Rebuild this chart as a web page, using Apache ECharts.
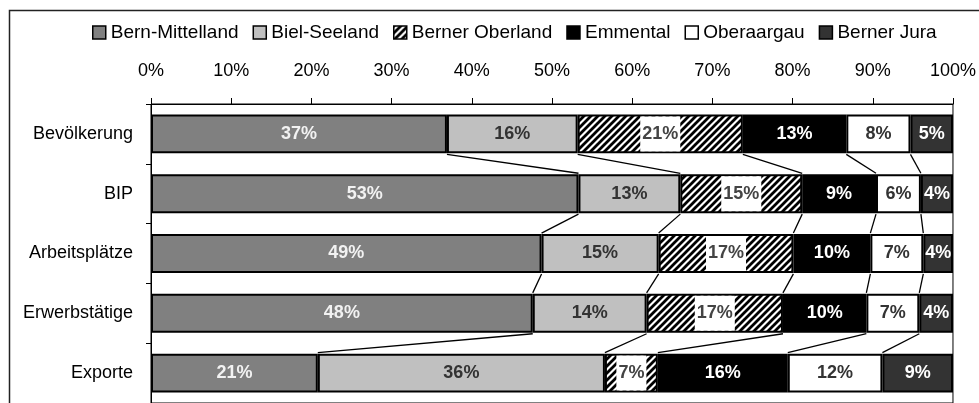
<!DOCTYPE html>
<html>
<head>
<meta charset="utf-8">
<script src="https://cdn.jsdelivr.net/npm/echarts@6/dist/echarts.min.js"></script>
<style>
html,body{margin:0;padding:0;background:#fff;}
#chart{width:979px;height:403px;}
</style>
</head>
<body>
<div id="chart"></div>
<script>
const categories = ['Bevölkerung', 'BIP', 'Arbeitsplätze', 'Erwerbstätige', 'Exporte'];
const seriesNames = ['Bern-Mittelland', 'Biel-Seeland', 'Berner Oberland', 'Emmental', 'Oberaargau', 'Berner Jura'];
const bernMittelland = [36.9, 53.3, 48.7, 47.6, 20.8];
const bielSeeland    = [16.3, 12.7, 14.6, 14.2, 35.8];
const bernerOberland = [20.6, 15.2, 16.8, 17.0, 6.6];
const emmental       = [12.9, 9.2, 9.6, 10.4, 16.2];
const oberaargau     = [8.0, 5.6, 6.6, 6.6, 11.8];
const bernerJura     = [5.3, 4.0, 3.7, 4.2, 8.8];
const valueArrays = [bernMittelland, bielSeeland, bernerOberland, emmental, oberaargau, bernerJura];

const FONT = 'Liberation Sans, Arial, sans-serif';
const GAP = 0.35;

// hatch pattern for Berner Oberland
function makeHatch() {
  const c = document.createElement('canvas');
  const s = 7;
  c.width = s; c.height = s;
  const ctx = c.getContext('2d');
  ctx.fillStyle = '#fff';
  ctx.fillRect(0, 0, s, s);
  ctx.strokeStyle = '#000';
  ctx.lineWidth = 2.8;
  ctx.beginPath();
  ctx.moveTo(-1, s + 1); ctx.lineTo(s + 1, -1);
  ctx.moveTo(-s / 2 - 1, s / 2 + 1); ctx.lineTo(s / 2 + 1, -s / 2 - 1);
  ctx.moveTo(s / 2 - 1, s * 1.5 + 1); ctx.lineTo(s * 1.5 + 1, s / 2 - 1);
  ctx.stroke();
  return c;
}
const hatch = { image: makeHatch(), repeat: 'repeat' };

const fills = ['#808080', '#c0c0c0', hatch, '#000000', '#ffffff', '#333333'];
const labelColors = ['#f2f2f2', '#333333', '#444444', '#ffffff', '#333333', '#ffffff'];

// cumulative boundaries per category
const cum = categories.map((c, i) => {
  const arr = [0];
  let s = 0;
  valueArrays.forEach(a => { s += a[i]; arr.push(s); });
  return arr;
});

const barSeries = seriesNames.map((name, k) => {
  const label = {
    show: true,
    position: 'inside',
    formatter: p => Math.round(p.value) + '%',
    fontFamily: FONT,
    fontSize: 18,
    fontWeight: 'bold',
    color: labelColors[k]
  };
  if (k === 2) {
    label.backgroundColor = '#fff';
    label.padding = [9, 2, 8, 2];
  }
  return {
    name: name,
    type: 'bar',
    stack: 'total',
    barCategoryGap: (GAP * 100) + '%',
    data: valueArrays[k],
    itemStyle: { color: fills[k], borderColor: '#000', borderWidth: 2 },
    label: label,
    emphasis: { disabled: true }
  };
});

const linkData = [];
for (let i = 0; i < categories.length - 1; i++) linkData.push([0, i]);

const linkSeries = {
  name: 'links',
  type: 'custom',
  clip: false,
  z: 5,
  silent: true,
  encode: { x: 0, y: 1 },
  data: linkData,
  renderItem: function (params, api) {
    const i = api.value(1);
    const band = api.size([0, 1])[1];
    const half = band * (1 - GAP) / 2 + 1;
    const children = [];
    for (let k = 1; k < seriesNames.length; k++) {
      const p1 = api.coord([cum[i][k], i]);
      const p2 = api.coord([cum[i + 1][k], i + 1]);
      children.push({
        type: 'line',
        shape: { x1: p1[0], y1: p1[1] + half, x2: p2[0], y2: p2[1] - half },
        style: { stroke: '#000', lineWidth: 1.3 }
      });
    }
    return { type: 'group', children: children };
  }
};

const chart = echarts.init(document.getElementById('chart'), null, { renderer: 'canvas' });
chart.setOption({
  animation: false,
  backgroundColor: '#fff',
  textStyle: { fontFamily: FONT },
  graphic: [{
    type: 'rect',
    shape: { x: 9.5, y: 10.5, width: 1200, height: 800 },
    style: { fill: 'none', stroke: '#222', lineWidth: 1.5 },
    silent: true,
    z: 0
  }],
  legend: {
    data: seriesNames,
    left: 87,
    top: 18,
    itemWidth: 13,
    itemHeight: 13,
    itemGap: 14,
    icon: 'rect',
    itemStyle: { borderColor: '#000', borderWidth: 1.5 },
    textStyle: { fontFamily: FONT, fontSize: 19, color: '#000' },
    selectedMode: false
  },
  grid: {
    left: 151,
    right: 23,
    top: 104,
    height: 304,
    show: true,
    borderColor: '#000',
    borderWidth: 1,
    backgroundColor: 'transparent'
  },
  xAxis: {
    type: 'value',
    position: 'top',
    min: 0,
    max: 100,
    interval: 10,
    axisLine: { show: true, lineStyle: { color: '#000', width: 1 } },
    axisTick: { show: true, length: 6, lineStyle: { color: '#000' } },
    axisLabel: { formatter: '{value}%', fontFamily: FONT, fontSize: 18, color: '#000', margin: 24 },
    splitLine: { show: false }
  },
  yAxis: {
    type: 'category',
    data: categories,
    inverse: true,
    axisLine: { show: true, lineStyle: { color: '#000', width: 1 } },
    axisTick: { show: true, length: 5, lineStyle: { color: '#000' } },
    axisLabel: { fontFamily: FONT, fontSize: 18, color: '#000', margin: 18 },
    splitLine: { show: false }
  },
  series: barSeries.concat([linkSeries])
});
</script>
</body>
</html>
